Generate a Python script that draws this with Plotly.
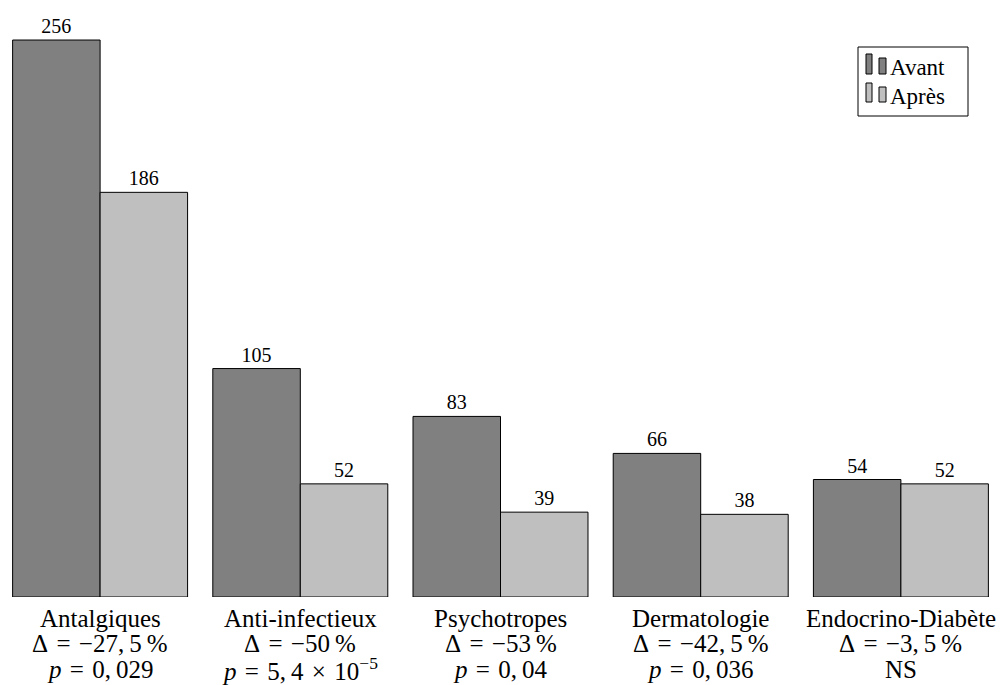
import plotly.graph_objects as go

# --- data -------------------------------------------------------------
categories = ["Antalgiques", "Anti-infectieux", "Psychotropes", "Dermatologie", "Endocrino-Diabète"]
avant = [256, 105, 83, 66, 54]
apres = [186, 52, 39, 38, 52]
delta_labels = ["−27,\u20095\u2009%", "−50\u2009%", "−53\u2009%", "−42,\u20095\u2009%", "−3,\u20095\u2009%"]
p_labels = [
    "<i>p</i>\u2004=\u20040,\u2009029",
    "<i>p</i>\u2004=\u20045,\u20094\u2004×\u200410<sup>−5</sup>",
    "<i>p</i>\u2004=\u20040,\u200904",
    "<i>p</i>\u2004=\u20040,\u2009036",
    "NS",
]
series_names = ["Avant", "Après"]
series_colors = ["#808080", "#bfbfbf"]

# --- page geometry (pixels) --------------------------------------------
W, H = 1001, 685
BOTTOM = 88                 # bottom margin, room for category labels
PLOT_H = H - BOTTOM
Y_MAX = 274.4
FONT = "Liberation Serif"


def px_x(x):
    return x / W


def px_y(y):
    return (PLOT_H - y) / PLOT_H


fig = go.Figure()
for name, vals, col in zip(series_names, [avant, apres], series_colors):
    fig.add_trace(go.Bar(
        name=name,
        x=categories,
        y=vals,
        marker=dict(color=col, line=dict(color="black", width=1)),
        texttemplate="%{y}",
        textposition="outside",
        textfont=dict(family=FONT, size=20, color="black"),
        cliponaxis=False,
        showlegend=False,
    ))

annotations = []
# three-line category captions under each group
for cat, d, p in zip(categories, delta_labels, p_labels):
    for text, yc, size in [(cat, 618, 25), ("Δ\u2004=\u2004" + d, 643, 25), (p, 669, 25)]:
        annotations.append(dict(
            x=cat, xref="x", y=0, yref="paper",
            yshift=-(yc - PLOT_H), yanchor="middle", xanchor="center",
            text=text, showarrow=False,
            font=dict(family=FONT, size=size, color="black"),
        ))

# legend drawn as a framed box with paired swatches
shapes = [dict(type="rect", xref="paper", yref="paper",
               x0=px_x(858), x1=px_x(968), y0=px_y(116), y1=px_y(47),
               line=dict(color="black", width=1), fillcolor="white", layer="above")]
rows = [(54, 58, 74, 67.7), (83, 87, 102, 96.3)]
for (ytop1, ytop2, ybot, yc), name, col in zip(rows, series_names, series_colors):
    for (xa, xb, yt) in [(866, 872, ytop1), (879, 886, ytop2)]:
        shapes.append(dict(type="rect", xref="paper", yref="paper",
                           x0=px_x(xa), x1=px_x(xb), y0=px_y(ybot), y1=px_y(yt),
                           line=dict(color="black", width=1), fillcolor=col, layer="above"))
    annotations.append(dict(
        x=px_x(888), xref="paper", y=px_y(yc), yref="paper",
        xanchor="left", yanchor="middle", text=name, showarrow=False,
        font=dict(family=FONT, size=23, color="black"),
    ))

fig.update_layout(
    width=W, height=H,
    margin=dict(l=0, r=0, t=0, b=BOTTOM, pad=0),
    paper_bgcolor="white", plot_bgcolor="white",
    font=dict(family=FONT, color="black"),
    barmode="group", bargap=0.126, bargroupgap=0,
    xaxis=dict(range=[-0.5, 4.5], showticklabels=False, showgrid=False,
               zeroline=False, showline=False, ticks=""),
    yaxis=dict(range=[0, Y_MAX], visible=False, showgrid=False, zeroline=False),
    annotations=annotations,
    shapes=shapes,
    showlegend=False,
)

fig.write_html("out.html")
